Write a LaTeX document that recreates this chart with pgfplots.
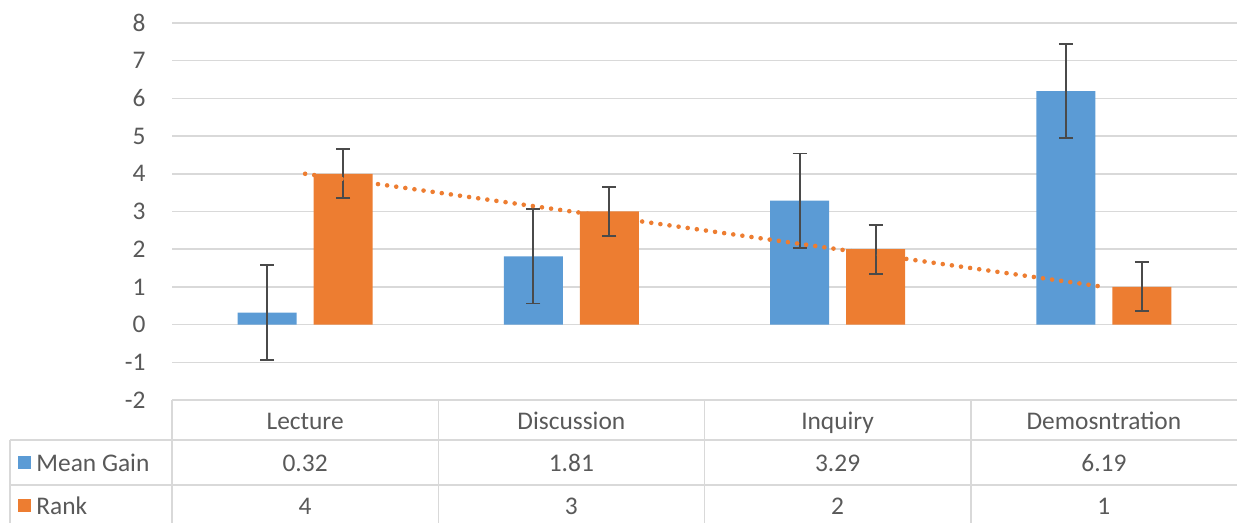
\documentclass[border=0pt]{standalone}
\usepackage{fontspec}
\setmainfont{Carlito}
\usepackage{pgfplots}
\usepackage{pgfplotstable}
\pgfplotsset{compat=1.18}
\definecolor{mgblue}{HTML}{5B9BD5}
\definecolor{rkorange}{HTML}{ED7D31}
\definecolor{gridgray}{HTML}{D9D9D9}
\definecolor{txtgray}{HTML}{595959}
\definecolor{errgray}{HTML}{4A4A4A}

% x = category index, y = value, e = error
\pgfplotstableread{
x  y     e
1  0.32  1.25
2  1.81  1.25
3  3.29  1.25
4  6.19  1.25
}\meangain
\pgfplotstableread{
x  y  e
1  4  0.65
2  3  0.65
3  2  0.65
4  1  0.65
}\rank

\begin{document}
\begin{tikzpicture}[font=\fontsize{12.7}{15}\selectfont, text=txtgray]
\begin{axis}[
  scale only axis,
  width=532.5pt, height=188.5pt,
  xmin=0.5, xmax=4.5,
  ymin=-2, ymax=8,
  ytick={-2,-1,...,8},
  xtick=\empty,
  axis line style={draw=none},
  ymajorgrids,
  grid style={gridgray, line width=0.75pt},
  major tick length=0pt,
  yticklabel style={anchor=east, inner sep=0pt, xshift=-13pt, text=txtgray},
  /pgf/number format/assume math mode=true,
  ybar, bar width=29.5pt,
  clip=false,
]
\addplot[fill=mgblue, draw=none, bar shift=-19pt,
  error bars/.cd, y dir=both, y explicit,
  error bar style={errgray, line width=0.9pt},
  error mark options={errgray, rotate=90, mark size=3.5pt, line width=0.9pt}]
  table[x=x, y=y, y error=e] {\meangain};
\addplot[fill=rkorange, draw=none, bar shift=19pt,
  error bars/.cd, y dir=both, y explicit,
  error bar style={errgray, line width=0.9pt},
  error mark options={errgray, rotate=90, mark size=3.5pt, line width=0.9pt}]
  table[x=x, y=y, y error=e] {\rank};
% linear trendline of Rank
\addplot[sharp plot, rkorange, line width=2.3pt, line cap=round,
  dash pattern=on 0pt off 4.6pt]
  coordinates {(1,4) (4,1)};
\coordinate (O) at (rel axis cs:0,0);
\end{axis}

% data table below the plot
\begin{scope}[shift={(O)}]
  \draw[gridgray, line width=0.75pt]
    (-81pt,-20pt) -- (532.5pt,-20pt)
    (-81pt,-42.5pt) -- (532.5pt,-42.5pt)
    (-81pt,-20pt) -- (-81pt,-61.5pt)
    (0pt,0pt) -- (0pt,-61.5pt)
    (133.125pt,0pt) -- (133.125pt,-61.5pt)
    (266.25pt,0pt) -- (266.25pt,-61.5pt)
    (399.375pt,0pt) -- (399.375pt,-61.5pt);
  \foreach \cx/\cat/\mg/\rk in {66.56/Lecture/0.32/4, 199.69/Discussion/1.81/3,
      332.81/Inquiry/3.29/2, 465.94/Demosntration/6.19/1} {
    \node[anchor=base, inner sep=0pt] at (\cx pt,-15pt) {\cat};
    \node[anchor=base, inner sep=0pt] at (\cx pt,-35.8pt) {\mg};
    \node[anchor=base, inner sep=0pt] at (\cx pt,-57.5pt) {\rk};
  }
  \fill[mgblue] (-77pt,-34.5pt) rectangle ++(6.5pt,6.5pt);
  \fill[rkorange] (-77pt,-56pt) rectangle ++(6.5pt,6.5pt);
  \node[anchor=base west, inner sep=0pt] at (-68pt,-35.8pt) {Mean Gain};
  \node[anchor=base west, inner sep=0pt] at (-68pt,-57.5pt) {Rank};
\end{scope}

\pgfresetboundingbox
\path[use as bounding box] ([xshift=-86pt,yshift=-61.5pt]O) rectangle ([xshift=532.5pt,yshift=200pt]O);
\end{tikzpicture}
\end{document}
